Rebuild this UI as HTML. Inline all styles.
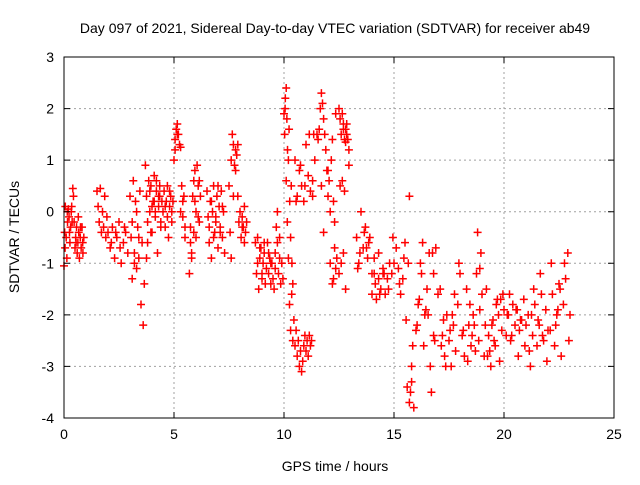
<!DOCTYPE html>
<html><head><meta charset="utf-8"><style>
body{margin:0;background:#fff;}
svg text{font-family:"Liberation Sans",sans-serif;font-size:14px;fill:#000;}
</style></head><body>
<svg id="chart" width="640" height="480">
<rect x="0" y="0" width="640" height="480" fill="#fff"/>
<g id="grid"></g>
<g id="pts"></g>
<rect x="64" y="57" width="550" height="361" fill="none" stroke="#000" stroke-width="1"/>
<g id="axes"></g>
<text x="335" y="33" text-anchor="middle">Day 097 of 2021, Sidereal Day-to-day VTEC variation (SDTVAR) for receiver ab49</text>
<text x="335" y="471" text-anchor="middle">GPS time / hours</text>
<text transform="translate(19,237) rotate(-90)" text-anchor="middle">SDTVAR / TECUs</text>
</svg>
<script>
const xTicks=[0,5,10,15,20,25];
const yTicks=[-4,-3,-2,-1,0,1,2,3];
const times=[0,0.03,0.06,0.1,0.13,0.16,0.2,0.23,0.27,0.3,0.33,0.37,0.4,0.43,0.46,0.5,0.53,0.57,0.6,0.63,0.67,0.7,0.74,0.78,0.82,0.86,0.9,0.05,0.15,0.25,0.35,0.55,0.65,0.75,0.85,
1.5,1.55,1.6,1.65,1.7,1.75,1.8,1.85,1.9,1.95,2.0,2.1,2.2,2.3,2.4,2.5,2.6,2.7,2.8,2.9,2.15,2.35,2.55,2.75,
3.0,3.05,3.1,3.15,3.2,3.25,3.3,3.35,3.4,3.45,3.5,3.55,3.6,3.65,3.1,3.2,3.3,3.4,
3.7,3.75,3.8,3.85,3.9,3.95,4.0,4.05,4.1,4.15,4.2,4.25,4.3,4.35,4.4,4.45,3.8,3.9,4.0,4.1,4.2,4.3,4.4,3.75,3.95,4.15,4.35,
4.5,4.55,4.6,4.65,4.7,4.75,4.8,4.85,4.9,4.95,4.6,4.7,4.8,4.9,
5.0,5.05,5.1,5.15,5.2,5.25,5.3,5.35,5.4,5.45,5.5,5.3,5.4,5.5,5.05,5.15,
5.7,5.75,5.8,5.85,5.9,5.95,6.0,6.05,6.1,6.15,6.2,5.8,5.9,6.0,6.1,5.75,5.95,6.15,
6.5,6.55,6.6,6.65,6.7,6.75,6.8,6.85,6.9,6.95,7.0,7.05,7.1,7.15,7.2,7.25,7.3,6.6,6.7,6.8,6.9,7.0,7.1,7.2,
7.5,7.55,7.6,7.65,7.7,7.75,7.8,7.85,7.9,7.95,8.0,8.05,8.1,8.15,8.2,8.25,8.3,7.6,7.7,7.8,7.9,8.1,8.2,
8.7,8.75,8.8,8.85,8.9,8.95,9.0,9.05,9.1,9.15,9.2,9.25,9.3,9.35,9.4,9.45,9.5,8.8,8.9,9.0,9.1,9.2,9.3,9.4,
9.55,9.6,9.65,9.7,9.75,9.8,9.85,9.9,9.95,9.6,9.7,9.8,
10.0,10.03,10.06,10.1,10.13,10.16,10.2,10.23,10.26,10.3,10.33,10.36,10.4,10.05,10.1,10.15,10.2,10.25,10.3,
10.35,10.4,10.45,10.5,10.55,10.6,10.65,10.7,10.75,10.8,10.85,10.9,10.95,11.0,11.05,11.1,11.15,11.2,11.25,11.3,
10.5,10.6,10.7,10.8,10.9,11.0,11.1,11.2,11.3,11.4,11.5,10.55,10.75,10.95,11.15,11.35,
11.55,11.6,11.65,11.7,11.75,11.8,11.85,11.9,11.95,12.0,12.05,12.1,12.15,12.2,12.25,12.3,12.35,11.7,11.8,11.9,12.0,12.1,
12.2,12.25,12.3,12.35,12.4,12.5,12.6,12.7,12.8,
12.5,12.55,12.6,12.65,12.7,12.75,12.8,12.85,12.9,12.95,12.55,12.65,12.75,12.85,12.95,12.7,12.8,
13.3,13.4,13.5,13.6,13.7,13.8,13.9,14.0,13.45,13.65,13.85,13.35,13.75,
14.0,14.1,14.2,14.3,14.4,14.5,14.6,14.7,14.8,14.9,15.0,14.15,14.35,14.55,14.75,14.95,14.1,14.3,14.5,
15.1,15.2,15.3,15.4,15.5,15.6,15.7,15.8,15.9,15.75,15.8,15.85,15.7,15.65,15.25,15.45,15.55,
16.0,16.1,16.2,16.3,16.4,16.5,16.6,16.7,16.8,16.9,17.0,16.05,16.25,16.45,16.65,16.85,16.8,16.75,16.15,16.35,16.55,
17.1,17.2,17.3,17.4,17.5,17.6,17.7,17.8,17.9,18.0,17.15,17.35,17.55,17.75,17.95,17.25,17.65,
18.1,18.2,18.3,18.4,18.5,18.6,18.7,18.8,18.9,19.0,18.15,18.35,18.55,18.75,18.95,18.9,18.85,18.45,18.65,
19.1,19.2,19.3,19.4,19.5,19.6,19.7,19.8,19.9,20.0,19.15,19.35,19.55,19.75,19.95,19.25,19.45,19.65,19.85,
20.1,20.2,20.3,20.4,20.5,20.6,20.7,20.8,20.9,21.0,20.15,20.35,20.55,20.75,20.95,20.25,20.65,
21.1,21.2,21.3,21.4,21.5,21.6,21.7,21.8,21.9,22.0,21.15,21.35,21.55,21.75,21.95,21.25,21.65,
22.1,22.2,22.3,22.4,22.5,22.6,22.7,22.8,22.9,23.0,22.15,22.35,22.55,22.75,22.95,22.45,22.85];
const values=[-1.05,-0.4,0.1,-0.5,-0.9,-0.2,0.05,-0.1,-0.6,-0.3,0.0,-0.2,0.45,0.3,-0.2,-0.7,-0.5,-0.3,-0.8,-0.6,-0.4,-0.9,-0.5,-0.7,-0.3,-0.8,-0.5,-0.7,0.0,-0.4,0.1,-0.6,-0.1,-0.3,-0.6,
0.4,0.1,-0.2,0.45,-0.4,0.0,-0.3,0.3,-0.5,-0.1,-0.4,-0.7,-0.3,-0.9,-0.5,-0.2,-1.0,-0.6,-0.4,-0.8,-0.6,-0.4,-0.7,-0.3,
0.3,-0.5,-1.3,0.6,-0.8,0.2,-1.1,-0.3,-0.9,0.4,-1.8,-0.6,-2.2,-1.4,-0.2,-1.0,0.0,-0.5,
0.9,0.3,-0.2,0.6,0.0,0.5,-0.4,0.2,0.7,-0.1,0.4,-0.8,0.1,0.5,-0.3,0.2,-0.6,0.4,0.1,0.2,0.6,0.3,-0.2,-0.9,-0.4,0.0,0.3,
0.0,0.4,-0.3,0.2,0.5,-0.5,0.1,0.3,-0.2,0.2,0.1,-0.1,0.4,0.0,
1.0,1.4,1.6,1.7,1.5,1.3,1.25,0.5,-0.1,0.3,-0.5,0.0,0.2,-0.3,1.2,1.5,
-1.2,-0.6,-0.9,0.3,-0.4,0.8,0.0,0.9,0.5,-0.2,0.3,-0.8,0.6,-0.5,-0.1,-0.3,0.2,0.6,
0.4,-0.1,-0.6,0.2,-0.9,0.0,0.5,-0.4,-0.2,0.3,-0.7,0.1,-0.3,0.4,-0.5,0.0,-0.8,-0.3,0.2,-0.5,-0.1,0.5,-0.4,0.1,
0.5,-0.4,1.0,1.5,1.3,0.9,1.2,1.1,0.3,-0.2,0.0,-0.5,-0.1,-0.3,-0.6,-0.4,-0.2,-0.9,0.3,0.8,1.3,-0.3,0.1,
-0.6,-1.2,-0.5,-1.5,-0.9,-0.7,-1.3,-1.0,-0.8,-1.4,-1.1,-0.6,-1.2,-0.9,-1.4,-1.0,-1.3,-1.0,-0.7,-1.2,-0.6,-1.1,-0.8,-1.0,
-1.5,-0.8,-0.3,0.0,-1.2,-0.5,-1.4,-1.0,-1.3,-1.1,-0.6,-0.9,
1.9,1.5,2.2,2.4,1.8,1.2,1.0,1.6,0.2,-0.5,0.5,-1.0,-1.4,2.0,0.6,-0.2,-0.9,-1.8,-2.3,
-1.6,-2.5,-2.1,-2.6,-2.3,-2.8,-2.5,-3.0,-2.7,-3.1,-2.9,-2.6,-2.4,-2.7,-2.5,-2.8,-2.4,-2.6,-2.5,
0.6,1.0,0.3,0.8,0.5,0.2,1.3,0.7,0.4,0.3,1.0,1.5,0.2,0.9,0.5,1.5,
1.5,1.4,1.6,2.0,2.3,2.1,1.8,1.5,1.2,0.8,0.3,0.6,0.0,1.0,1.4,0.2,-0.2,1.9,0.5,-0.4,1.2,0.8,
-1.0,-1.4,-1.3,-0.7,-1.1,-0.9,-1.2,-1.0,-0.8,
1.6,2.0,1.8,1.5,1.9,1.7,1.4,1.35,1.7,1.4,0.9,0.5,0.6,0.4,1.5,1.2,1.6,
-1.5,-0.5,-1.0,0.0,-0.7,-0.3,-0.9,-0.5,-1.2,-0.8,-0.4,-0.6,-1.1,
-0.7,-1.6,-1.2,-1.7,-0.8,-1.5,-1.1,-1.6,-1.3,-1.0,-1.2,-1.0,-1.4,-1.6,-1.2,-1.5,-0.5,-0.9,-1.3,
-1.2,-0.7,-1.1,-1.6,-1.3,-0.6,-3.4,-3.7,-3.3,-3.8,-3.5,-3.0,-2.6,0.3,-1.0,-1.4,-0.9,
-2.1,-2.3,-1.8,-1.0,-0.6,-2.0,-1.5,-0.8,-3.5,-1.2,-0.7,-1.6,-2.2,-1.2,-1.9,-3.0,-2.5,-2.4,-0.8,-1.7,-2.6,
-2.0,-1.5,-2.4,-2.8,-2.0,-2.5,-3.0,-2.2,-2.7,-1.8,-1.2,-2.6,-3.0,-2.3,-1.6,-1.0,-2.1,
-2.0,-2.4,-2.8,-1.5,-2.2,-2.6,-2.0,-2.7,-0.4,-1.9,-1.6,-2.3,-2.9,-2.4,-1.2,-0.8,-1.1,-2.5,-1.8,
-2.2,-2.8,-1.5,-2.4,-3.0,-2.1,-2.6,-1.7,-2.9,-2.3,-1.9,-2.2,-2.7,-2.5,-2.0,-1.6,-2.8,-2.2,-1.8,
-1.7,-2.4,-2.0,-2.5,-1.8,-2.2,-1.9,-2.3,-2.1,-1.7,-2.2,-2.0,-2.4,-1.9,-2.1,-2.6,-1.6,
-2.8,-2.0,-3.0,-2.4,-1.8,-2.6,-2.2,-1.6,-2.5,-1.9,-2.3,-2.7,-1.5,-2.1,-2.4,-2.9,-2.0,
-1.2,-2.3,-1.6,-2.6,-2.0,-1.4,-2.8,-1.8,-1.3,-0.8,-2.0,-1.0,-2.2,-1.5,-1.0,-2.5,-1.9];
const times2=[0.12,0.22,0.32,0.42,0.52,0.62,0.72,0.82,1.58,1.72,1.88,2.05,2.25,2.45,2.65,2.85,3.02,3.12,3.22,3.32,3.42,3.72,3.82,3.92,4.02,4.12,4.22,4.32,4.42,4.52,4.62,4.72,4.82,4.92,5.02,5.12,5.22,5.32,5.42,5.72,5.82,5.92,6.02,6.12,6.55,6.65,6.75,6.85,6.95,7.05,7.15,7.25,7.55,7.65,7.75,7.85,7.95,8.05,8.15,8.75,8.85,8.95,9.05,9.15,9.25,9.35,9.45,9.62,9.72,9.82,9.92,10.02,10.08,10.14,10.22,10.28,10.34,10.42,10.48,10.58,10.68,10.78,10.88,10.98,11.08,11.18,11.28,11.38,11.62,11.72,11.82,11.92,12.02,12.12,12.22,12.42,12.52,12.62,12.72,12.82,12.92,13.42,13.52,13.62,13.72,13.82,13.92,14.05,14.25,14.45,14.65,14.85,15.05,15.15,15.35,15.55,15.65,15.75,15.95,16.05,16.25,16.45,16.55,16.75,16.95,17.05,17.25,17.45,17.55,17.85,18.05,18.25,18.45,18.55,18.75,18.85,19.05,19.15,19.25,19.45,19.55,19.75,19.85,20.05,20.25,20.45,20.55,20.85,21.05,21.25,21.45,21.55,21.75,21.85,22.05,22.25,22.45,22.65,22.75,22.85,22.95];
const values2=[-0.2,-0.6,-0.3,0.2,-0.4,-0.8,-0.7,-0.5,0.2,-0.1,-0.6,-0.2,-0.5,-0.8,-0.3,-0.9,-0.4,-0.2,-0.6,0.1,-0.4,0.5,0.1,0.3,-0.1,0.2,0.0,0.3,0.1,-0.1,0.3,0.0,0.2,0.1,1.3,1.6,1.4,1.0,0.4,-0.9,-0.2,0.7,0.2,0.4,-0.2,0.1,-0.3,0.3,-0.4,0.0,-0.6,-0.2,0.0,1.2,1.4,1.0,0.0,-0.4,-0.2,-0.9,-1.1,-0.7,-1.2,-0.9,-1.3,-0.8,-1.1,-1.0,-0.7,-1.2,-0.6,2.1,1.7,2.3,1.4,0.9,0.0,-0.6,-1.8,-2.4,-2.6,-2.9,-2.5,-2.7,-2.4,-2.6,0.9,1.3,1.6,2.2,1.9,1.2,0.5,0.9,-1.2,1.8,1.6,1.8,1.5,1.0,0.6,-0.8,-0.4,-0.7,-0.2,-0.6,-1.0,-1.3,-1.5,-1.3,-1.4,-1.2,-1.1,-1.0,-0.9,-1.3,-0.8,-3.6,-3.2,-2.2,-1.8,-2.0,-1.2,-0.9,-1.6,-2.5,-1.4,-1.9,-2.4,-2.2,-2.7,-1.6,-2.2,-1.7,-2.5,-2.3,-1.4,-2.1,-2.6,-1.9,-2.2,-2.5,-2.4,-1.8,-2.0,-2.3,-2.1,-1.9,-2.4,-1.9,-2.5,-2.2,-1.8,-2.3,-2.2,-2.6,-1.9,-2.0,-1.7,-1.5,-1.2,-1.8];
const X0=64,X1=614,Y0=418,Y1=57;
function xs(t){return X0+(t-0)/(25-0)*(X1-X0);}
function ys(v){return Y0-(v-(-4))/(3-(-4))*(Y0-Y1);}
const NS="http://www.w3.org/2000/svg";
const grid=document.getElementById('grid'),axes=document.getElementById('axes'),pts=document.getElementById('pts');
xTicks.forEach(t=>{
 const x=xs(t);
 if(t>0&&t<25){const g=document.createElementNS(NS,'line');
 
 
 g.setAttribute('x1',x);g.setAttribute('x2',x);g.setAttribute('y1',Y1);g.setAttribute('y2',Y0);
 g.setAttribute('stroke','#a0a0a0');g.setAttribute('stroke-dasharray','2,3');grid.appendChild(g);}
 const tk=document.createElementNS(NS,'path');
 
 
 tk.setAttribute('d',`M${x},${Y0}v-6M${x},${Y1}v6`);tk.setAttribute('stroke','#000');axes.appendChild(tk);
 const tx=document.createElementNS(NS,'text');
 
 
 tx.setAttribute('x',x);tx.setAttribute('y',Y0+21);tx.setAttribute('text-anchor','middle');tx.textContent=t;axes.appendChild(tx);
});
yTicks.forEach(v=>{
 const y=ys(v);
 if(v>-4&&v<3){const g=document.createElementNS(NS,'line');
 
 
 g.setAttribute('x1',X0);g.setAttribute('x2',X1);g.setAttribute('y1',y);g.setAttribute('y2',y);
 g.setAttribute('stroke','#a0a0a0');g.setAttribute('stroke-dasharray','2,3');grid.appendChild(g);}
 const tk=document.createElementNS(NS,'path');
 
 
 tk.setAttribute('d',`M${X0},${y}h6M${X1},${y}h-6`);tk.setAttribute('stroke','#000');axes.appendChild(tk);
 const tx=document.createElementNS(NS,'text');
 
 
 tx.setAttribute('x',X0-10);tx.setAttribute('y',y+5);tx.setAttribute('text-anchor','end');tx.textContent=v;axes.appendChild(tx);
});
let d='';
for(let i=0;i<times.length;i++){const x=xs(times[i]),y=ys(values[i]);d+=`M${x-4},${y}h8M${x},${y-4}v8`;}
for(let i=0;i<times2.length;i++){const x=xs(times2[i]),y=ys(values2[i]);d+=`M${x-4},${y}h8M${x},${y-4}v8`;}
const p=document.createElementNS(NS,'path');


p.setAttribute('d',d);p.setAttribute('stroke','#ff0000');p.setAttribute('stroke-width','1.5');p.setAttribute('fill','none');
pts.appendChild(p);
</script>
</body></html>
